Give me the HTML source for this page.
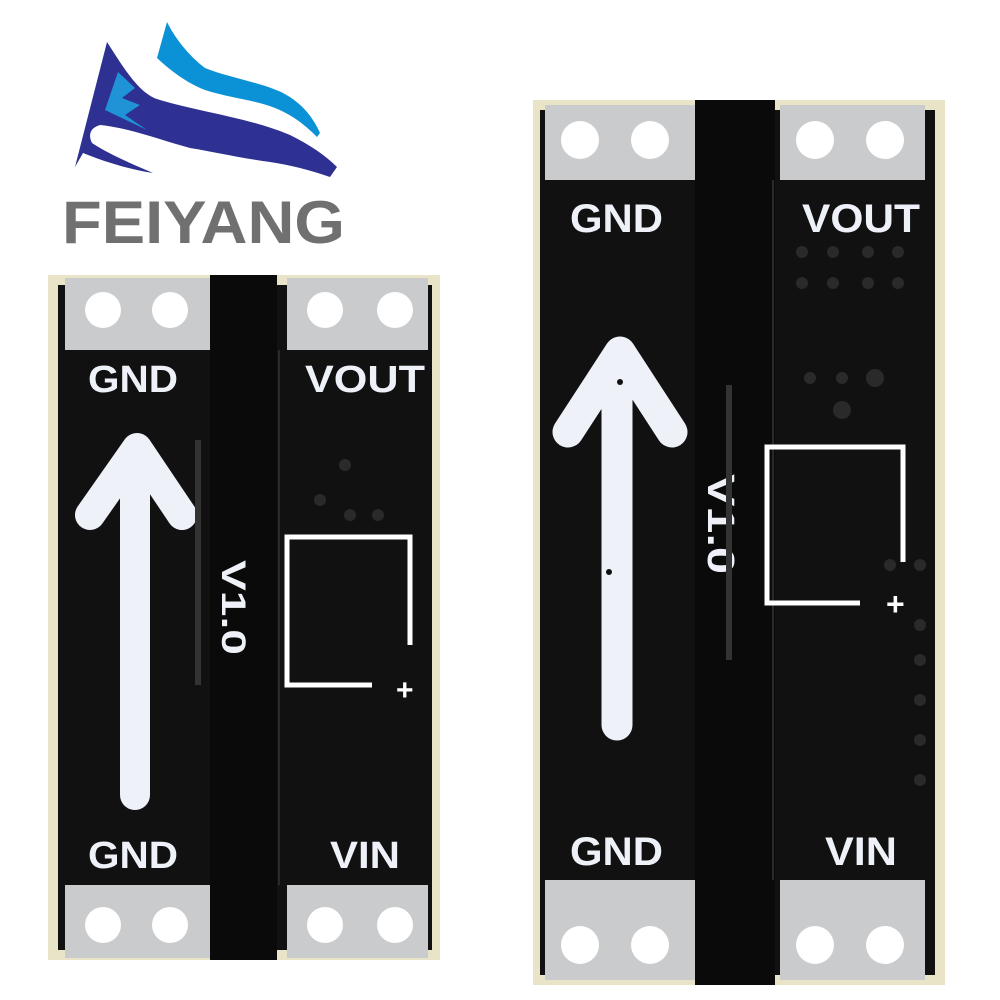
<!DOCTYPE html>
<html><head><meta charset="utf-8"><style>
html,body{margin:0;padding:0;background:#fff;width:1000px;height:1000px;overflow:hidden}
</style></head><body>
<svg width="1000" height="1000" viewBox="0 0 1000 1000" xmlns="http://www.w3.org/2000/svg" font-family="Liberation Sans, sans-serif">
<rect width="1000" height="1000" fill="#fff"/>
<!-- logo -->
<path d="M107,42 C125,70 140,95 160,100 C200,112 250,118 290,135 C310,145 325,155 337,167 L330,177 C310,170 290,165 270,162 C240,158 215,152 190,148 C160,140 130,128 100,125 C90,128 88,135 92,143 C110,155 135,165 153,173 C130,170 100,160 83,153 L75,167 Z" fill="#2e3191"/>
<path d="M118,72 L105,110 L147,130 L125,115 L140,105 L122,98 L135,88 Z" fill="#1f93d6"/>
<path d="M167,22 L157,58 C170,70 185,82 205,90 C230,98 255,100 275,108 C295,116 308,128 317,137 L320,133 C312,115 300,102 283,93 C260,82 230,78 205,68 C188,55 175,38 167,22 Z" fill="#0b92d6"/>
<text x="62" y="243" font-size="60" font-weight="bold" fill="#707070" textLength="283" lengthAdjust="spacingAndGlyphs">FEIYANG</text>

<!-- LEFT board -->
<rect x="48" y="275" width="392" height="685" fill="#e9e4c8"/>
<rect x="58" y="285" width="374" height="665" fill="#111"/>
<rect x="65" y="278" width="145" height="72" fill="#c9cbcd"/>
<rect x="287" y="278" width="141" height="72" fill="#c9cbcd"/>
<rect x="65" y="885" width="145" height="73" fill="#c9cbcd"/>
<rect x="287" y="885" width="141" height="73" fill="#c9cbcd"/>
<rect x="210" y="275" width="67" height="685" fill="#0a0a0a"/>
<line x1="279" y1="350" x2="279" y2="885" stroke="#2a2a2a" stroke-width="2"/>
<g fill="#fff"><circle cx="103" cy="310" r="18"/><circle cx="170" cy="310" r="18"/><circle cx="325" cy="310" r="18"/><circle cx="395" cy="310" r="18"/>
<circle cx="103" cy="925" r="18"/><circle cx="170" cy="925" r="18"/><circle cx="325" cy="925" r="18"/><circle cx="395" cy="925" r="18"/></g>
<g fill="#eef2f8" font-size="38" font-weight="bold">
<text x="88" y="392" textLength="90" lengthAdjust="spacingAndGlyphs">GND</text><text x="305" y="392" textLength="120" lengthAdjust="spacingAndGlyphs">VOUT</text>
<text x="88" y="868" textLength="90" lengthAdjust="spacingAndGlyphs">GND</text><text x="330" y="868" textLength="70" lengthAdjust="spacingAndGlyphs">VIN</text></g>
<g stroke="#eef2f8" stroke-width="30" stroke-linecap="round" stroke-linejoin="round" fill="none">
<line x1="135" y1="455" x2="135" y2="795"/>
<polyline points="90,515 137,448 182,515"/>
</g>
<text transform="translate(222,560) rotate(90)" fill="#eef2f8" font-size="34" font-weight="bold" textLength="95" lengthAdjust="spacingAndGlyphs">V1.0</text>
<line x1="198" y1="440" x2="198" y2="685" stroke="#333" stroke-width="6"/>
<path d="M410,645 L410,537 L287,537 L287,685 L372,685" fill="none" stroke="#fff" stroke-width="5"/>
<text x="396" y="700" fill="#fff" font-size="30" font-weight="bold">+</text>
<g fill="#2a2a2a"><circle cx="345" cy="465" r="6"/><circle cx="320" cy="500" r="6"/><circle cx="378" cy="515" r="6"/><circle cx="350" cy="515" r="6"/></g>

<!-- RIGHT board -->
<rect x="533" y="100" width="412" height="885" fill="#e9e4c8"/>
<rect x="540" y="110" width="395" height="865" fill="#111"/>
<rect x="545" y="105" width="150" height="75" fill="#c9cbcd"/>
<rect x="780" y="105" width="145" height="75" fill="#c9cbcd"/>
<rect x="545" y="880" width="150" height="100" fill="#c9cbcd"/>
<rect x="780" y="880" width="145" height="100" fill="#c9cbcd"/>
<rect x="695" y="100" width="80" height="885" fill="#0a0a0a"/>
<line x1="773" y1="180" x2="773" y2="880" stroke="#2a2a2a" stroke-width="2"/>
<g fill="#fff"><circle cx="580" cy="140" r="19"/><circle cx="650" cy="140" r="19"/><circle cx="815" cy="140" r="19"/><circle cx="885" cy="140" r="19"/>
<circle cx="580" cy="945" r="19"/><circle cx="650" cy="945" r="19"/><circle cx="815" cy="945" r="19"/><circle cx="885" cy="945" r="19"/></g>
<g fill="#eef2f8" font-size="40" font-weight="bold">
<text x="570" y="232" textLength="93" lengthAdjust="spacingAndGlyphs">GND</text><text x="802" y="232" textLength="118" lengthAdjust="spacingAndGlyphs">VOUT</text>
<text x="570" y="865" textLength="93" lengthAdjust="spacingAndGlyphs">GND</text><text x="825" y="865" textLength="72" lengthAdjust="spacingAndGlyphs">VIN</text></g>
<g stroke="#eef2f8" stroke-width="31" stroke-linecap="round" stroke-linejoin="round" fill="none">
<line x1="617" y1="360" x2="617" y2="725"/>
<polyline points="568,432 620,352 672,432"/>
</g>
<circle cx="620" cy="382" r="3" fill="#111"/>
<circle cx="609" cy="572" r="3" fill="#111"/>
<text transform="translate(708,474) rotate(90)" fill="#eef2f8" font-size="38" font-weight="bold" textLength="100" lengthAdjust="spacingAndGlyphs">V1.0</text>
<path d="M729,385 L729,660" stroke="#333" stroke-width="6" fill="none"/>
<path d="M903,562 L903,447 L767,447 L767,603 L860,603" fill="none" stroke="#fff" stroke-width="5"/>
<text x="886" y="615" fill="#fff" font-size="32" font-weight="bold">+</text>
<g fill="#2a2a2a"><circle cx="802" cy="252" r="6"/><circle cx="833" cy="252" r="6"/><circle cx="868" cy="252" r="6"/><circle cx="898" cy="252" r="6"/>
<circle cx="802" cy="283" r="6"/><circle cx="833" cy="283" r="6"/><circle cx="868" cy="283" r="6"/><circle cx="898" cy="283" r="6"/>
<circle cx="810" cy="378" r="6"/><circle cx="842" cy="378" r="6"/><circle cx="875" cy="378" r="9"/><circle cx="842" cy="410" r="9"/>
<circle cx="890" cy="565" r="6"/><circle cx="920" cy="565" r="6"/><circle cx="920" cy="625" r="6"/><circle cx="920" cy="660" r="6"/><circle cx="920" cy="700" r="6"/>
<circle cx="920" cy="740" r="6"/><circle cx="920" cy="780" r="6"/></g>
</svg>
</body></html>
